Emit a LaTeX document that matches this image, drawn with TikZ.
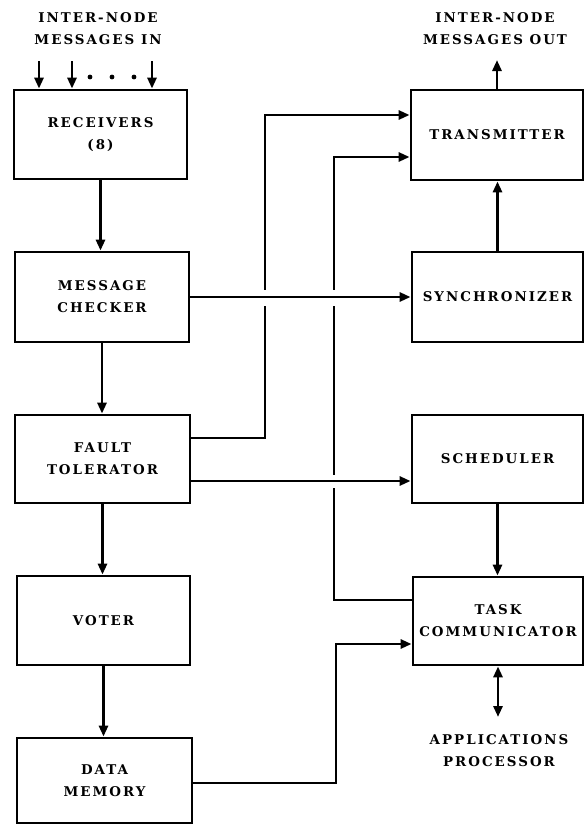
\documentclass[tikz,border=0pt]{standalone}
\usepackage{fontspec}
\usetikzlibrary{arrows.meta}
\newfontfamily\lbl{DejaVu Serif Bold}[LetterSpace=15]
\begin{document}
\begin{tikzpicture}[x=1pt,y=-1pt,line width=2.8pt,
  >={Triangle[length=11pt,width=9pt]},
  txt/.style={font=\lbl\fontsize{13.4}{22}\selectfont},
  box/.style={draw,txt,align=center,inner sep=0pt},
  lab/.style={txt,align=center,inner sep=0pt},
  gap/.style={fill=white,draw=none}]
\useasboundingbox (0,0) rectangle (585,825);
% left column
\node[box,minimum width=173pt,minimum height=89pt] (rx) at (100.5,134.5) {RECEIVERS\\(8)};
\node[box,minimum width=174pt,minimum height=90pt] (mc) at (102,297) {MESSAGE\\CHECKER};
\node[box,minimum width=175pt,minimum height=88pt] (ft) at (102.5,459) {FAULT\\TOLERATOR};
\node[box,minimum width=173pt,minimum height=89pt] (vo) at (103.5,620.5) {VOTER};
\node[box,minimum width=175pt,minimum height=85pt] (dm) at (104.5,780.5) {DATA\\MEMORY};
% right column
\node[box,minimum width=172pt,minimum height=90pt] (tx) at (497,135) {TRANSMITTER};
\node[box,minimum width=171pt,minimum height=90pt] (sy) at (497.5,297) {SYNCHRONIZER};
\node[box,minimum width=171pt,minimum height=88pt] (sc) at (497.5,459) {SCHEDULER};
\node[box,minimum width=170pt,minimum height=88pt] (tc) at (498,621) {TASK\\COMMUNICATOR};
% outside labels
\node[lab] (inlab) at (98,28.5) {INTER-NODE\\MESSAGES IN};
\node[lab] (outlab) at (495,28.5) {INTER-NODE\\MESSAGES OUT};
\node[lab] (aplab) at (499,750.5) {APPLICATIONS\\PROCESSOR};
% coordinates
\coordinate (i1) at (39,61);
\coordinate (i2) at (72,61);
\coordinate (i3) at (152,61);
\coordinate (out) at (497,60);
\coordinate (ap) at (498,717);
\coordinate (f1) at (265,438);
\coordinate (f1t) at (265,115);
\coordinate (f2) at (0,481);
\coordinate (t1) at (334,600);
\coordinate (t1t) at (334,157);
\coordinate (d1) at (336,783);
\coordinate (d1t) at (336,644);
% input arrows
\draw[->] (i1) -- (i1 |- rx.north);
\draw[->] (i2) -- (i2 |- rx.north);
\draw[->] (i3) -- (i3 |- rx.north);
\fill (90,77) circle (2.4pt) (112,77) circle (2.4pt) (134,77) circle (2.4pt);
% left vertical flow
\draw[->] (rx.south) -- (rx.south |- mc.north);
\draw[->] (mc.south) -- (mc.south |- ft.north);
\draw[->] (ft.south) -- (ft.south |- vo.north);
\draw[->] (vo.south) -- (vo.south |- dm.north);
% long routes to transmitter
\draw[->] (ft.east |- f1) -- (f1) -- (f1t) -- (tx.west |- f1t);
\draw[->] (tc.west |- t1) -- (t1) -- (t1t) -- (tx.west |- t1t);
% gaps at crossings
\fill[gap] (259,290) rectangle (271,306);
\fill[gap] (328,290) rectangle (340,306);
\fill[gap] (328,475) rectangle (340,488);
% horizontal routes
\draw[->] (mc.east) -- (mc.east -| sy.west);
\draw[->] (ft.east |- f2) -- (sc.west |- f2);
\draw[->] (dm.east |- d1) -- (d1) -- (d1t) -- (tc.west |- d1t);
% right column
\draw[->] (sy.north) -- (sy.north |- tx.south);
\draw[->] (tx.north) -- (out);
\draw[->] (sc.south) -- (sc.south |- tc.north);
\draw[<->] (tc.south) -- (ap);
\end{tikzpicture}
\end{document}
